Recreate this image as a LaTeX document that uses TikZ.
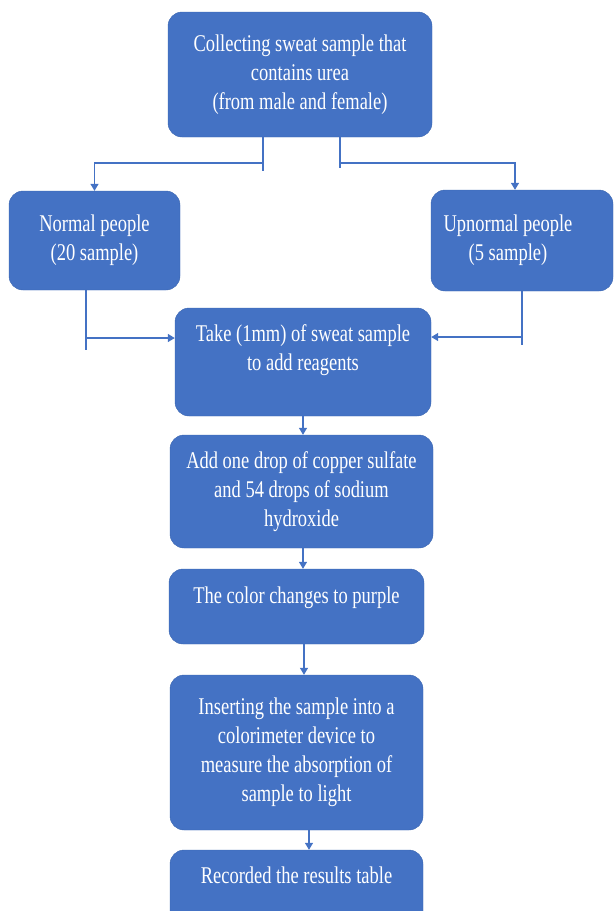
\documentclass[tikz,border=0pt]{standalone}
\usepackage{fontspec}
\setmainfont[FakeStretch=0.77]{Liberation Serif}
\usetikzlibrary{arrows.meta}
\definecolor{boxblue}{HTML}{4472C4}
\definecolor{edgeblue}{HTML}{3A65B0}

\begin{document}
\begin{tikzpicture}[x=1pt,y=-1pt,
    boxtext/.style={text=white,align=center,font=\fontsize{24}{29}\selectfont},
    stepbox/.style={boxtext,draw=edgeblue,fill=boxblue,rounded corners=14pt,inner sep=0pt},
    wire/.style={draw=boxblue,line width=1.3pt},
    flow/.style={wire,-{Triangle[length=7pt,width=8pt]}}]
    \useasboundingbox (0,0) rectangle (615,911);
    \node[stepbox,minimum width=264pt,minimum height=125pt] (collect) at (300,74.5) {Collecting sweat sample that\\contains urea\\(from male and female)};
    \node[stepbox,minimum width=171pt,minimum height=99pt] (normal) at (94.5,240.5) {Normal people\\(20 sample)};
    \node[stepbox,minimum width=182pt,minimum height=101pt,label={[boxtext,xshift=-14pt]center:{Upnormal people\\(5 sample)}}] (abnormal) at (522,240.5) {};
    \node[stepbox,minimum width=256pt,minimum height=108pt,label={[boxtext,yshift=12pt]center:{Take (1mm) of sweat sample\\to add reagents}}] (take) at (303,362) {};
    \node[stepbox,minimum width=263pt,minimum height=113pt] (reagent) at (301.5,491.5) {Add one drop of copper sulfate\\and 54 drops of sodium\\hydroxide};
    \node[stepbox,minimum width=255pt,minimum height=75pt,label={[boxtext,yshift=9pt]center:{The color changes to purple}}] (purple) at (296.5,606.5) {};
    \node[stepbox,minimum width=253pt,minimum height=155pt] (colorimeter) at (296.5,752.5) {Inserting the sample into a\\colorimeter device to\\measure the absorption of\\sample to light};
    \node[stepbox,minimum width=253pt,minimum height=80pt,label={[boxtext,yshift=15pt]center:{Recorded the results table}}] (record) at (296.5,890) {};
    \coordinate (lstem) at (263,171);
    \coordinate (rstem) at (340,168);
    \coordinate (lbend) at (263,163);
    \coordinate (rbend) at (340,163);
    \draw[wire] (collect.south -| lstem) -- (lstem);
    \draw[wire] (collect.south -| rstem) -- (rstem);
    \draw[flow] (lbend) -| (normal.north);
    \draw[flow] (rbend) -| ([xshift=-7pt]abnormal.north);
    \coordinate (lfoot) at (86,350);
    \coordinate (rfoot) at (522,345);
    \coordinate (ljoin) at (86,338);
    \coordinate (rjoin) at (522,337);
    \draw[wire] (normal.south -| lfoot) -- (lfoot);
    \draw[wire] (abnormal.south) -- (rfoot);
    \draw[flow] (ljoin) -- (ljoin -| take.west);
    \draw[flow] (rjoin) -- (rjoin -| take.east);
    \draw[flow] (take.south) -- (reagent.north -| take.south);
    \draw[flow] (reagent.south -| take.south) -- (purple.north -| take.south);
    \draw[flow] ([xshift=7.5pt]purple.south) -- ([xshift=7.5pt]colorimeter.north);
    \draw[flow] ([xshift=12.5pt]colorimeter.south) -- ([xshift=12.5pt]record.north);
\end{tikzpicture}
\end{document}
